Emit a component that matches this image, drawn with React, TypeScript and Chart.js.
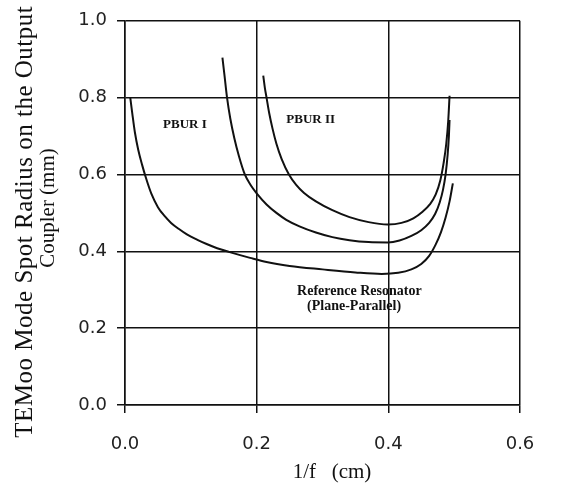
import React, { useEffect, useRef } from 'react';
import { Chart, registerables } from 'chart.js';

Chart.register(...registerables);

// Tick labels
const xTickLabels = ['0.0', '0.2', '0.4', '0.6'];
const yTickLabels = ['0.0', '0.2', '0.4', '0.6', '0.8', '1.0'];

// Axis titles
const yTitleLines = ['TEMoo Mode Spot Radius on the Output', 'Coupler (mm)'];
const xTitle = '1/f   (cm)';

// Reference Resonator (Plane-Parallel)
const refX = [0.008, 0.011, 0.015, 0.020, 0.026, 0.032, 0.040, 0.050, 0.060, 0.070, 0.082, 0.094, 0.110, 0.124, 0.140, 0.159, 0.190, 0.215, 0.250, 0.300, 0.350, 0.390, 0.415, 0.435, 0.450, 0.462, 0.472, 0.480, 0.487, 0.493, 0.498];
const refY = [0.800, 0.760, 0.710, 0.665, 0.625, 0.590, 0.550, 0.515, 0.492, 0.474, 0.458, 0.444, 0.430, 0.419, 0.408, 0.398, 0.383, 0.372, 0.362, 0.353, 0.345, 0.341, 0.344, 0.353, 0.367, 0.388, 0.418, 0.450, 0.488, 0.530, 0.577];

// PBUR I
const pbur1X = [0.148, 0.151, 0.155, 0.160, 0.166, 0.173, 0.182, 0.191, 0.200, 0.215, 0.230, 0.245, 0.265, 0.290, 0.315, 0.341, 0.370, 0.399, 0.417, 0.435, 0.450, 0.462, 0.471, 0.478, 0.483, 0.487, 0.490, 0.492, 0.493];
const pbur1Y = [0.904, 0.860, 0.800, 0.745, 0.695, 0.648, 0.600, 0.572, 0.551, 0.522, 0.500, 0.482, 0.465, 0.449, 0.437, 0.429, 0.424, 0.423, 0.428, 0.440, 0.455, 0.474, 0.497, 0.527, 0.560, 0.600, 0.650, 0.700, 0.742];

// PBUR II
const pbur2X = [0.210, 0.2125, 0.215, 0.219, 0.224, 0.230, 0.238, 0.249, 0.260, 0.272, 0.290, 0.315, 0.341, 0.370, 0.399, 0.420, 0.438, 0.452, 0.463, 0.472, 0.479, 0.484, 0.488, 0.491, 0.493];
const pbur2Y = [0.857, 0.825, 0.800, 0.760, 0.720, 0.680, 0.640, 0.600, 0.573, 0.552, 0.530, 0.507, 0.489, 0.476, 0.470, 0.474, 0.486, 0.503, 0.522, 0.548, 0.585, 0.630, 0.680, 0.740, 0.805];

// In-plot labels (data coordinates)
const noteTexts = ['PBUR I', 'PBUR II', 'Reference Resonator', '(Plane-Parallel)'];
const noteX = [0.091, 0.282, 0.356, 0.348];
const noteY = [0.731, 0.742, 0.295, 0.256];

const toPts = (xs: number[], ys: number[]) => xs.map((x, i) => ({ x, y: ys[i] }));

const INK = '#111';
const SERIF = '"Liberation Serif", "Times New Roman", serif';

const notesPlugin = {
  id: 'notes',
  afterDatasetsDraw(chart: any) {
    const { ctx, scales } = chart;
    ctx.save();
    ctx.fillStyle = INK;
    ctx.textAlign = 'center';
    ctx.textBaseline = 'middle';
    noteTexts.forEach((t, i) => {
      const size = i < 2 ? 13 : 14;
      ctx.font = `bold ${size}px ${SERIF}`;
      ctx.fillText(t, scales.x.getPixelForValue(noteX[i]), scales.y.getPixelForValue(noteY[i]));
    });
    ctx.restore();
  },
};

const titlesPlugin = {
  id: 'axisTitles',
  afterDraw(chart: any) {
    const { ctx } = chart;
    ctx.save();
    ctx.fillStyle = INK;
    ctx.textAlign = 'center';
    ctx.textBaseline = 'middle';
    const ySpecs = [
      { size: 25, cx: 25, cy: 222, target: 432 },
      { size: 21, cx: 48, cy: 208, target: 0 },
    ];
    yTitleLines.forEach((t, i) => {
      const s = ySpecs[i];
      ctx.font = `${s.size}px ${SERIF}`;
      let spacing = 0;
      if (s.target) {
        const w = ctx.measureText(t).width;
        spacing = Math.max(0, (s.target - w) / t.length);
      }
      (ctx as any).letterSpacing = `${spacing}px`;
      ctx.save();
      ctx.translate(s.cx, s.cy);
      ctx.rotate(-Math.PI / 2);
      ctx.fillText(t, spacing / 2, 0);
      ctx.restore();
      (ctx as any).letterSpacing = '0px';
    });
    ctx.font = `21px ${SERIF}`;
    ctx.fillText(xTitle, 332, 472);
    ctx.restore();
  },
};

export default function App() {
  const ref = useRef<HTMLCanvasElement | null>(null);

  useEffect(() => {
    if (!ref.current) return;
    const line = (data: any[]) => ({
      data,
      showLine: true,
      borderColor: INK,
      backgroundColor: INK,
      borderWidth: 2,
      pointRadius: 0,
      fill: false,
      cubicInterpolationMode: 'monotone' as const,
    });
    const tickFont = { family: '"DejaVu Sans", sans-serif', size: 18 };
    const chart = new Chart(ref.current, {
      type: 'scatter',
      data: {
        datasets: [
          { label: 'Reference Resonator (Plane-Parallel)', ...line(toPts(refX, refY)) },
          { label: 'PBUR I', ...line(toPts(pbur1X, pbur1Y)) },
          { label: 'PBUR II', ...line(toPts(pbur2X, pbur2Y)) },
        ],
      },
      options: {
        animation: false,
        responsive: false,
        devicePixelRatio: 1,
        layout: { padding: { top: 18, right: 42, left: 0, bottom: 0 } },
        plugins: { legend: { display: false }, tooltip: { enabled: false } },
        scales: {
          x: {
            type: 'linear',
            min: 0,
            max: 0.6,
            afterFit: (s: any) => { s.height = 89; },
            ticks: {
              stepSize: 0.2,
              color: '#222',
              padding: 21,
              font: tickFont,
              callback: (_v: any, i: number) => xTickLabels[i],
            },
            grid: { color: INK, lineWidth: 1.5, tickLength: 8, tickColor: INK, drawTicks: true },
            border: { display: true, color: INK, width: 1.5 },
          },
          y: {
            type: 'linear',
            min: 0,
            max: 1,
            afterFit: (s: any) => { s.width = 125; },
            ticks: {
              stepSize: 0.2,
              color: '#222',
              padding: 10,
              font: tickFont,
              callback: (_v: any, i: number) => yTickLabels[i],
            },
            grid: { color: INK, lineWidth: 1.5, tickLength: 8, tickColor: INK, drawTicks: true },
            border: { display: true, color: INK, width: 1.5 },
          },
        },
      },
      plugins: [notesPlugin, titlesPlugin],
    });
    return () => chart.destroy();
  }, []);

  return (
    <div style={{ position: 'absolute', left: 0, top: 0, width: 562, height: 494, background: '#fff' }}>
      <canvas ref={ref} width={562} height={494} style={{ display: 'block' }} />
    </div>
  );
}
